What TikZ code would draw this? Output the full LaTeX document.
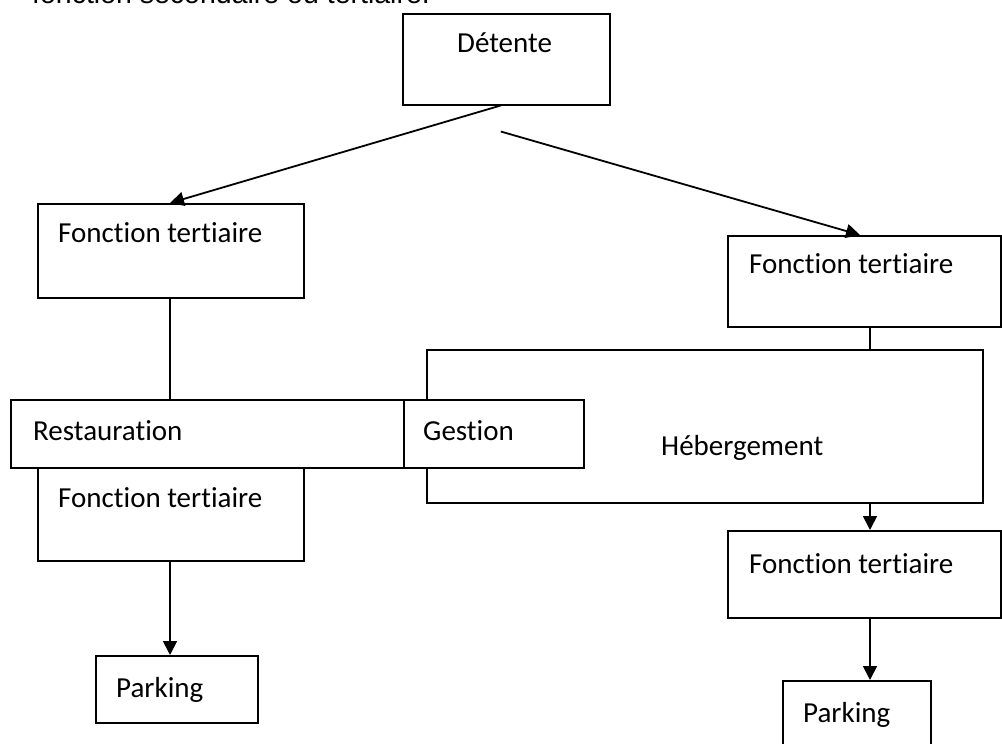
\documentclass[tikz,border=0pt]{standalone}
\usepackage{fontspec}
\setmainfont{Carlito}[Ligatures=NoCommon]
\newfontfamily\topfont{Liberation Sans}
\usetikzlibrary{arrows.meta,calc}
\begin{document}
\begin{tikzpicture}[x=1pt,y=-1pt,
  box/.style={draw=black,line width=1.5pt,fill=white,rectangle,inner sep=0pt,anchor=north west},
  lbl/.style={anchor=base west,inner sep=0pt,font=\fontsize{29}{33}\selectfont},
  arr/.style={line width=1.8pt,-{Triangle[length=14pt,width=14pt]}},
  ln/.style={line width=1.5pt}]
\useasboundingbox (0,0) rectangle (1002,744);
\clip (0,0) rectangle (1002,744);
\node[anchor=base west,inner sep=0pt,font=\topfont\fontsize{28.5}{32}\selectfont] (top) at (32,3) {fonction secondaire ou tertiaire.};
% boxes
\node[box,minimum width=207pt,minimum height=91pt] (det) at (402,13) {};
\node[box,minimum width=266pt,minimum height=94pt] (ft1) at (37,203) {};
\node[box,minimum width=273pt,minimum height=91pt] (ft2) at (727,235) {};
\node[box,minimum width=556pt,minimum height=153pt] (heb) at (426,349) {};
\node[box,minimum width=393pt,minimum height=68pt] (rest) at (10,399) {};
\node[box,minimum width=180pt,minimum height=68pt] (gest) at (403,399) {};
\node[box,minimum width=266pt,minimum height=93pt] (ft3) at (37,467) {};
\node[box,minimum width=273pt,minimum height=87pt] (ft4) at (727,530) {};
\node[box,minimum width=162pt,minimum height=67pt] (park1) at (95,655) {};
\node[box,minimum width=148pt,minimum height=70pt] (park2) at (782,680) {};
% labels
\node[lbl] (tdet) at (457,52) {Détente};
\node[lbl] (tft1) at (58,242) {Fonction tertiaire};
\node[lbl] (tft2) at (749,273) {Fonction tertiaire};
\node[lbl] (theb) at (661,455) {Hébergement};
\node[lbl] (trest) at (33,440) {Restauration};
\node[lbl] (tgest) at (423,440) {Gestion};
\node[lbl] (tft3) at (58,507) {Fonction tertiaire};
\node[lbl] (tft4) at (749,573) {Fonction tertiaire};
\node[lbl] (tpark1) at (116,697) {Parking};
\node[lbl] (tpark2) at (803,722) {Parking};
% connectors
\coordinate (split) at ($(det.south)+(-5.5,26)$);
\draw[arr] ([xshift=-5.5pt]det.south) -- ([xshift=133pt]ft1.north west);
\draw[arr] (split) -- ([xshift=133pt]ft2.north west);
\draw[ln] ([xshift=133pt]ft1.south west) -- ([xshift=160pt]rest.north west);
\draw[ln] ([xshift=143pt]ft2.south west) -- ([xshift=444pt]heb.north west);
\draw[arr] ([xshift=444pt]heb.south west) -- ([xshift=143pt]ft4.north west);
\draw[arr] ([xshift=133pt]ft3.south west) -- ([xshift=75pt]park1.north west);
\draw[arr] ([xshift=143pt]ft4.south west) -- ([xshift=88pt]park2.north west);
\end{tikzpicture}
\end{document}
